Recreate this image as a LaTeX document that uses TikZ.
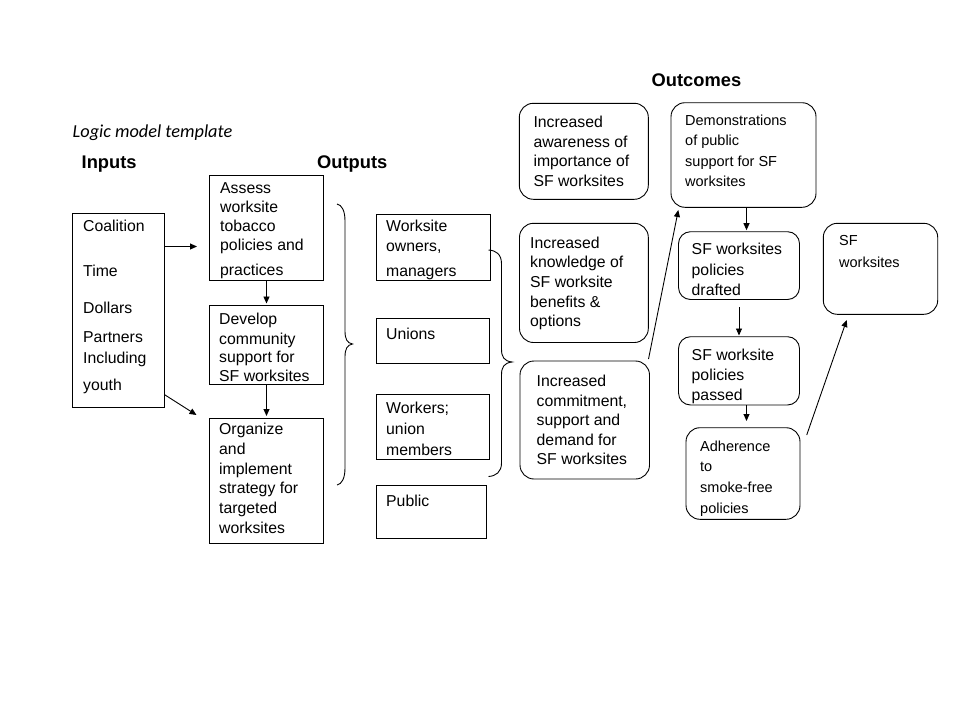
\documentclass[tikz,border=0pt]{standalone}
\usepackage{fontspec}
\setmainfont{Liberation Sans}
\newfontfamily\calfont{Carlito}
\usetikzlibrary{arrows.meta}
\tikzset{
 bx/.style={draw=black, line width=0.9pt, inner sep=0pt, outer sep=0pt, anchor=north west},
 rbx/.style={bx, rounded corners=14pt},
 tx/.style={anchor=north west, inner sep=0pt, align=left, font=\fontsize{15.8}{20}\selectfont, yshift=11pt, execute at begin node=\strut},
 tx1/.style={tx, yshift=3pt},
 txs/.style={tx, font=\fontsize{14.5}{20}\selectfont},
 hd/.style={anchor=base west, inner sep=0pt, font=\fontsize{18.3}{22}\selectfont\bfseries},
 arr/.style={line width=0.9pt, -{Triangle[length=7pt,width=6pt]}},
 brc/.style={line width=0.9pt},
}
\begin{document}
\begin{tikzpicture}[x=1pt,y=-1pt]
\useasboundingbox (0,0) rectangle (960,720);
\fill[white] (0,0) rectangle (960,720);

% headings
\node[anchor=base west, inner sep=0pt, font=\calfont\itshape\fontsize{18.3}{20}\selectfont] (title) at (72.5,137) {Logic model template};
\node[hd] (hin) at (81.5,168.3) {Inputs};
\node[hd] (hout) at (317,168.3) {Outputs};
\node[hd] (hoc) at (651.5,86) {Outcomes};

% input box
\node[bx, minimum width=92pt, minimum height=194.2pt] (inputs) at (72.3,213.3) {};
\node[tx] (inputsT) at (83,231) {Coalition\\[25pt]Time\\[16.7pt]Dollars\\[9pt]Partners\\[1.6pt]Including\\[6.7pt]youth};

% activities
\node[bx, minimum width=113.8pt, minimum height=105pt] (assess) at (209.5,175) {};
\node[tx] (assessT) at (220,193) {Assess\\[-1pt]worksite\\[-1pt]tobacco\\[-0.5pt]policies and\\[5pt]practices};
\node[bx, minimum width=113.8pt, minimum height=79pt] (develop) at (209.5,305.5) {};
\node[tx] (developT) at (219,324.3) {Develop\\[-0.3pt]community\\[-2pt]support for\\[-1pt]SF worksites};
\node[bx, minimum width=113.8pt, minimum height=125.3pt] (organize) at (209.5,418) {};
\node[tx] (organizeT) at (219,434) {Organize\\[-0.3pt]and\\[-0.3pt]implement\\[-0.3pt]strategy for\\[-0.3pt]targeted\\[-0.3pt]worksites};

% outputs
\node[bx, minimum width=114pt, minimum height=66.5pt] (worksite) at (376,214) {};
\node[tx] (worksiteT) at (386,231) {Worksite\\owners,\\[5pt]managers};
\node[bx, minimum width=113.5pt, minimum height=45pt] (unions) at (376,318.5) {};
\node[tx1] (unionsT) at (386,339.5) {Unions};
\node[bx, minimum width=113.5pt, minimum height=65.5pt] (workers) at (376,394) {};
\node[tx] (workersT) at (386,413) {Workers;\\[1pt]union\\[0.5pt]members};
\node[bx, minimum width=110pt, minimum height=53.5pt] (public) at (376,485) {};
\node[tx1] (publicT) at (386,506.7) {Public};

% outcomes
\node[rbx, minimum width=129pt, minimum height=96pt] (aware) at (519.3,103.3) {};
\node[tx] (awareT) at (533.3,127) {Increased\\[-0.5pt]awareness of\\[-0.5pt]importance of\\[-0.5pt]SF worksites};
\node[rbx, minimum width=128.8pt, minimum height=119.2pt] (know) at (519.5,223.3) {};
\node[tx] (knowT) at (530,248.3) {Increased\\[-1.3pt]knowledge of\\SF worksite\\[-0.5pt]benefits \&\\[-0.5pt]options};
\node[rbx, minimum width=129.5pt, minimum height=118pt] (commit) at (520,361) {};
\node[tx] (commitT) at (536.5,386) {Increased\\[-0.5pt]commitment,\\[-0.5pt]support and\\[-0.5pt]demand for\\[-0.5pt]SF worksites};
\node[rbx, minimum width=145pt, minimum height=104.6pt] (demos) at (671,102.7) {};
\node[txs, yshift=-1pt] (demosT) at (685,125) {Demonstrations\\of public\\[1pt]support for SF\\worksites};
\node[rbx, rounded corners=12pt, minimum width=121pt, minimum height=67.8pt] (drafted) at (678.5,231.7) {};
\node[tx] (draftedT) at (691.5,254.3) {SF worksites\\[0.2pt]policies\\[0.5pt]drafted};
\node[rbx, rounded corners=12pt, minimum width=121pt, minimum height=68.3pt] (passed) at (678.5,336.7) {};
\node[tx] (passedT) at (691.5,360) {SF worksite\\policies\\passed};
\node[rbx, minimum width=114pt, minimum height=91.6pt] (adher) at (686,427.7) {};
\node[txs] (adherT) at (700,451.7) {Adherence\\to\\[1pt]smoke-free\\[0.6pt]policies};
\node[rbx, minimum width=114.4pt, minimum height=91pt] (sfbox) at (823.3,223.3) {};
\node[txs] (sfboxT) at (839,245.7) {SF\\[2.6pt]worksites};

% connector end points
\coordinate (a1s) at (164.3,246.5);
\coordinate (a1e) at (197,246.5);
\coordinate (a2s) at (164.3,394.5);
\coordinate (a2e) at (196.5,415);
\coordinate (a3e) at (266.5,303.5);
\coordinate (a4e) at (266.5,416);
\coordinate (a5s) at (648.5,359);
\coordinate (a5e) at (678.3,210);
\coordinate (a6e) at (746.5,230.2);
\coordinate (a7s) at (739,307);
\coordinate (a7e) at (739,335.5);
\coordinate (a8e) at (746.5,421);
\coordinate (a9s) at (806.7,435);
\coordinate (a9e) at (846.7,320);

\draw[arr] (a1s) -- (a1e);
\draw[arr] (a2s) -- (a2e);
\draw[arr] (assess.south -| a3e) -- (a3e);
\draw[arr] (develop.south -| a4e) -- (a4e);
\draw[arr] (a5s) -- (a5e);
\draw[arr] (demos.south -| a6e) -- (a6e);
\draw[arr] (a7s) -- (a7e);
\draw[arr] (passed.south -| a8e) -- (a8e);
\draw[arr] (a9s) -- (a9e);

% braces
\draw[brc] (337,204) .. controls (342,205) and (345,211) .. (345,221)
  -- (345,331) .. controls (345,339) and (347,343) .. (352.5,344)
  .. controls (347,345) and (345,349) .. (345,357)
  -- (345,468) .. controls (345,478) and (342,484) .. (337,485);
\draw[brc] (488.5,250) .. controls (496,250.5) and (501.5,254) .. (501.5,264)
  -- (501.5,349) .. controls (501.5,357) and (504,361) .. (512,362)
  .. controls (504,363) and (501.5,367) .. (501.5,375)
  -- (501.5,463) .. controls (501.5,472) and (496,476) .. (488.5,476.5);
\end{tikzpicture}
\end{document}
